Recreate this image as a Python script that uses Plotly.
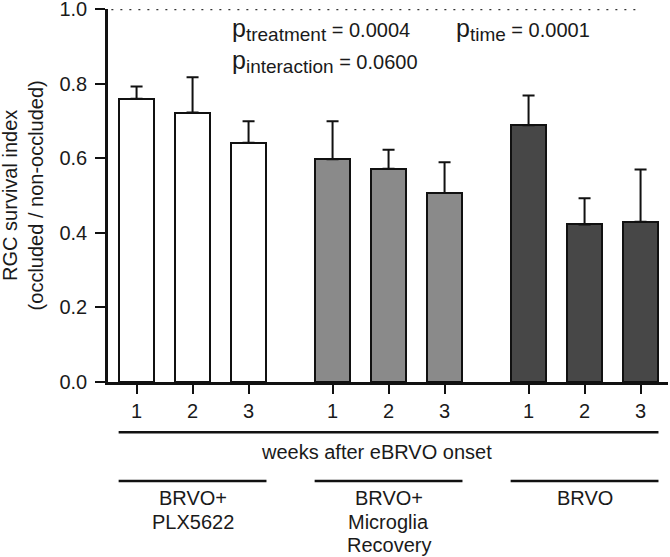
import plotly.graph_objects as go

# ---- data ----
group_lines = [["BRVO+", "PLX5622"], ["BRVO+", "Microglia", "Recovery"], ["BRVO"]]
weeks = ["1", "2", "3"]
plx_means = [0.760, 0.723, 0.642]
plx_err = [0.033, 0.095, 0.058]
rec_means = [0.598, 0.572, 0.507]
rec_err = [0.102, 0.051, 0.083]
brvo_means = [0.689, 0.423, 0.430]
brvo_err = [0.080, 0.070, 0.140]
group_colors = ["#ffffff", "#8a8a8a", "#474747"]
p_names = ["treatment", "time", "interaction"]
p_values = ["0.0004", "0.0001", "0.0600"]
y_title = "RGC survival index<br>(occluded / non-occluded)"
x_title = "weeks after eBRVO onset"
yticks = [0.0, 0.2, 0.4, 0.6, 0.8, 1.0]

means = [plx_means, rec_means, brvo_means]
errs = [plx_err, rec_err, brvo_err]
group_start = [0.0, 3.5, 7.0]
bar_w = 0.64
FONT = "Liberation Sans, Arial, sans-serif"
TXT = "#1a1a1a"
FS = 20

fig = go.Figure()
all_x = []
for gi in range(3):
    xs = [group_start[gi] + i for i in range(3)]
    all_x += xs
    fig.add_trace(go.Bar(
        x=xs, y=means[gi], width=bar_w,
        marker=dict(color=group_colors[gi], line=dict(color="#111111", width=2)),
        error_y=dict(type="data", array=errs[gi], arrayminus=[0, 0, 0], symmetric=False,
                     color="#111111", thickness=2, width=6),
        showlegend=False,
    ))

# reference dotted line at 1.0
fig.add_shape(type="line", xref="x", yref="y", x0=-0.45, x1=9.0, y0=1.0, y1=1.0,
              line=dict(color="#333333", width=2, dash="2px,7px"))

# bottom lines and labels
left = all_x[0] - bar_w / 2
right = all_x[-1] + bar_w / 2
fig.add_shape(type="line", xref="x", yref="paper", x0=left, x1=right, y0=-0.135, y1=-0.135,
              line=dict(color="#111111", width=2.5))
fig.add_annotation(x=(left + right) / 2 - 0.21, y=-0.187, xref="x", yref="paper", text=x_title,
                   showarrow=False, font=dict(size=FS, color=TXT, family=FONT), yanchor="middle")
line_y = [-0.311, -0.3745, -0.438]
for gi in range(3):
    gl = group_start[gi] - bar_w / 2
    gr = group_start[gi] + 2 + bar_w / 2
    fig.add_shape(type="line", xref="x", yref="paper", x0=gl, x1=gr, y0=-0.2654, y1=-0.2654,
                  line=dict(color="#111111", width=2.5))
    for li, txt in enumerate(group_lines[gi]):
        fig.add_annotation(x=group_start[gi] + 1, y=line_y[li], xref="x", yref="paper", text=txt,
                           showarrow=False, font=dict(size=FS, color=TXT, family=FONT),
                           yanchor="middle", align="center")

# y-axis title
fig.add_annotation(x=-0.152, y=0.5, xref="paper", yref="paper", text=y_title, textangle=-90,
                   showarrow=False, font=dict(size=FS, color=TXT, family=FONT),
                   xanchor="center", yanchor="middle", align="center")


def p_text(name, val):
    return ("<span style='font-size:25px'>p</span>"
            "<sub><span style='font-size:19px'>" + name + "</span></sub>"
            " = " + val)


# p-value annotations
p_pos = [(0.218, 0.944), (0.617, 0.944), (0.218, 0.86)]
for (px, py), nm, v in zip(p_pos, p_names, p_values):
    fig.add_annotation(x=px, y=py, xref="paper", yref="paper", text=p_text(nm, v), showarrow=False,
                       xanchor="left", yanchor="middle", font=dict(size=FS, color=TXT, family=FONT))

fig.update_layout(
    width=670, height=557,
    margin=dict(l=108, r=2, t=9, b=175),
    plot_bgcolor="white", paper_bgcolor="white",
    bargap=0,
    font=dict(family=FONT, size=FS, color=TXT),
    xaxis=dict(range=[-0.51, 9.49], tickvals=all_x, ticktext=weeks * 3, automargin=False,
               showline=True, linecolor="#111111", linewidth=2.5,
               ticks="outside", ticklen=9, tickwidth=2, tickcolor="#111111",
               showgrid=False, zeroline=False, tickfont=dict(size=FS, color=TXT)),
    yaxis=dict(range=[0, 1.001], tickvals=yticks, tickformat=".1f", automargin=False,
               showline=True, linecolor="#111111", linewidth=2.5,
               ticks="outside", ticklen=10, tickwidth=2, tickcolor="#111111",
               ticklabelstandoff=4, ticklabeloverflow="allow",
               showgrid=False, zeroline=False, tickfont=dict(size=FS, color=TXT)),
)

fig.write_html("out.html", config={"displayModeBar": False},
               post_script="document.body.style.margin='0';")
